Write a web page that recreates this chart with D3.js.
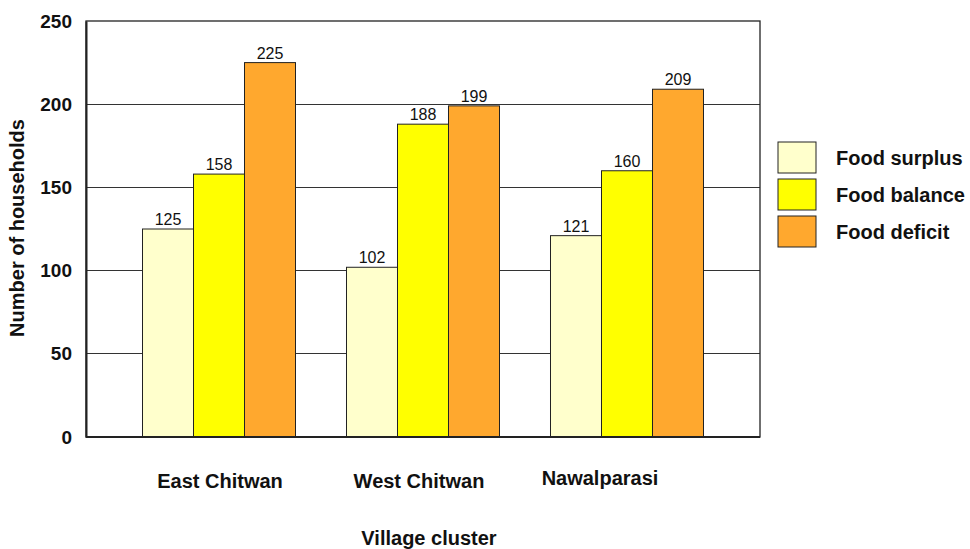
<!DOCTYPE html>
<html>
<head>
<meta charset="utf-8">
<script src="https://cdn.jsdelivr.net/npm/d3@7"></script>
<style>
  html, body { margin: 0; padding: 0; background: #fff; }
  svg { display: block; font-family: "Liberation Sans", Arial, sans-serif; }
</style>
</head>
<body>
<svg id="chart" width="970" height="549"></svg>
<script>
const clusters = ["East Chitwan", "West Chitwan", "Nawalparasi"];
const seriesNames = ["Food surplus", "Food balance", "Food deficit"];
const foodSurplus = [125, 102, 121];
const foodBalance = [158, 188, 160];
const foodDeficit = [225, 199, 209];
const yTicks = [0, 50, 100, 150, 200, 250];
const colors = ["#FFFFCC", "#FFFF00", "#FFA82E"];

const seriesValues = [foodSurplus, foodBalance, foodDeficit];

const svg = d3.select("#chart");
const plot = { left: 86, right: 760, top: 21, bottom: 437 };

const x0 = d3.scaleBand()
  .domain(clusters)
  .range([plot.left, plot.right])
  .paddingInner(0.25)
  .paddingOuter(0.277);

const x1 = d3.scaleBand()
  .domain(seriesNames)
  .range([0, x0.bandwidth()]);

const y = d3.scaleLinear().domain([0, 250]).range([plot.bottom, plot.top]);

// gridlines
svg.append("g")
  .selectAll("line")
  .data(yTicks.filter(t => t > 0 && t < 250))
  .join("line")
  .attr("x1", plot.left).attr("x2", plot.right)
  .attr("y1", d => y(d)).attr("y2", d => y(d))
  .attr("stroke", "#333").attr("stroke-width", 1)
  .attr("shape-rendering", "crispEdges");

// plot frame
svg.append("rect")
  .attr("x", plot.left).attr("y", plot.top)
  .attr("width", plot.right - plot.left).attr("height", plot.bottom - plot.top)
  .attr("fill", "none").attr("stroke", "#222").attr("stroke-width", 1.3);

// bars
const groups = svg.append("g")
  .selectAll("g")
  .data(clusters)
  .join("g")
  .attr("transform", d => `translate(${x0(d)},0)`);

const cells = (c, i) => seriesNames.map((s, j) => ({ s, j, v: seriesValues[j][i] }));

groups.selectAll("rect")
  .data(cells)
  .join("rect")
  .attr("x", d => x1(d.s))
  .attr("y", d => y(d.v))
  .attr("width", x1.bandwidth())
  .attr("height", d => y(0) - y(d.v))
  .attr("fill", d => colors[d.j])
  .attr("stroke", "#222").attr("stroke-width", 1);

groups.selectAll("text")
  .data(cells)
  .join("text")
  .attr("x", d => x1(d.s) + x1.bandwidth() / 2)
  .attr("y", d => y(d.v) - 4)
  .attr("text-anchor", "middle")
  .attr("font-size", 16)
  .attr("fill", "#111")
  .text(d => d.v);

// y axis
const yAxis = d3.axisLeft(y).tickValues(yTicks).tickSize(0).tickPadding(14);
const yg = svg.append("g").attr("transform", `translate(${plot.left},0)`).call(yAxis);
yg.select(".domain").attr("stroke", "#222").attr("stroke-width", 2);
yg.selectAll("text")
  .attr("font-family", "Liberation Sans, Arial, sans-serif")
  .attr("font-size", 19).attr("font-weight", "bold").attr("fill", "#111");

// x axis line
svg.append("line")
  .attr("x1", plot.left).attr("x2", plot.right)
  .attr("y1", plot.bottom).attr("y2", plot.bottom)
  .attr("stroke", "#222").attr("stroke-width", 2);

// category labels
const labelShift = { "East Chitwan": 1, "West Chitwan": -4, "Nawalparasi": -27 };
const labelLift = { "East Chitwan": 0, "West Chitwan": 0, "Nawalparasi": -3 };
svg.append("g")
  .selectAll("text")
  .data(clusters)
  .join("text")
  .attr("x", d => x0(d) + x0.bandwidth() / 2 + labelShift[d])
  .attr("y", d => 488 + labelLift[d])
  .attr("text-anchor", "middle")
  .attr("font-size", 20).attr("font-weight", "bold").attr("fill", "#111")
  .text(d => d);

// axis titles
svg.append("text")
  .attr("x", 429).attr("y", 545)
  .attr("text-anchor", "middle")
  .attr("font-size", 20).attr("font-weight", "bold").attr("fill", "#111")
  .text("Village cluster");

svg.append("text")
  .attr("transform", "translate(24,228) rotate(-90)")
  .attr("text-anchor", "middle")
  .attr("font-size", 20).attr("font-weight", "bold").attr("fill", "#111")
  .text("Number of households");

// legend
const legend = svg.append("g")
  .selectAll("g")
  .data(seriesNames)
  .join("g")
  .attr("transform", (d, i) => `translate(778,${142 + i * 37})`);

legend.append("rect")
  .attr("width", 38).attr("height", 31)
  .attr("fill", (d, i) => colors[i])
  .attr("stroke", "#222").attr("stroke-width", 1);

legend.append("text")
  .attr("x", 58).attr("y", 16)
  .attr("dominant-baseline", "central")
  .attr("font-size", 20).attr("font-weight", "bold").attr("fill", "#111")
  .text(d => d);
</script>
</body>
</html>
